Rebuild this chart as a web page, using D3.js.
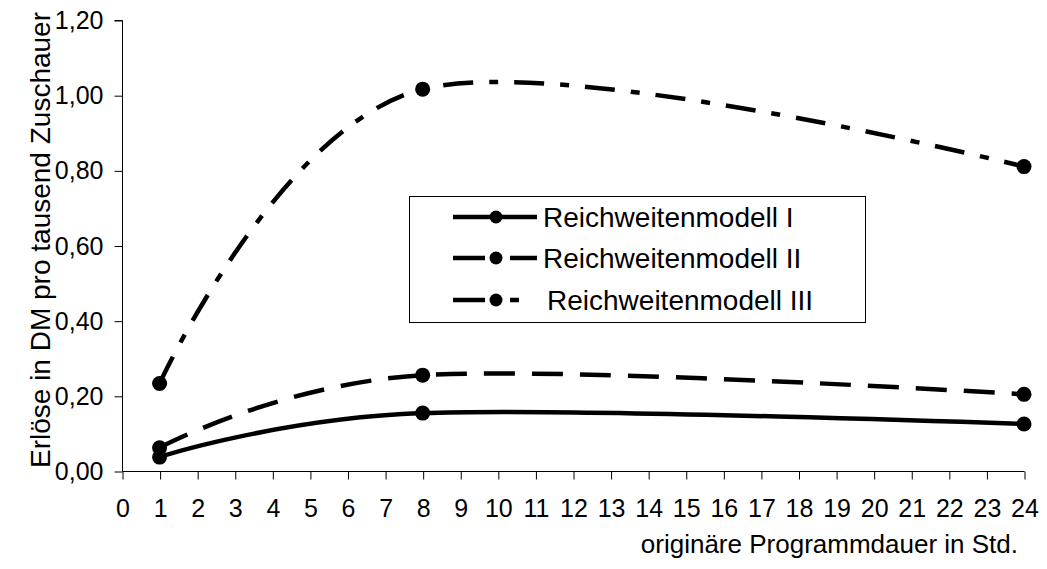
<!DOCTYPE html>
<html>
<head>
<meta charset="utf-8">
<script src="https://cdn.jsdelivr.net/npm/d3@7/dist/d3.min.js"></script>
<style>
  html, body { margin: 0; padding: 0; background: #fff; }
  svg { display: block; font-family: "Liberation Sans", Arial, sans-serif; }
</style>
</head>
<body>
<svg id="chart" width="1047" height="569"></svg>
<script>
// Program duration (hours) at which the revenue models were evaluated
const hours = [1, 8, 24];
// Revenue in DM per thousand viewers
const modelI = [0.037, 0.154, 0.125];
const modelII = [0.062, 0.255, 0.204];
const modelIII = [0.233, 1.016, 0.81];

const seriesNames = ["Reichweitenmodell I", "Reichweitenmodell II", "Reichweitenmodell III"];
const xTicks = d3.range(0, 25);
const yTicks = [0, 0.2, 0.4, 0.6, 0.8, 1.0, 1.2];
const xTitle = "originäre Programmdauer in Std.";
const yTitle = "Erlöse in DM pro tausend Zuschauer";

const svg = d3.select("#chart");
const x = d3.scaleLinear().domain([0, 24]).range([122, 1024]);
const y = d3.scaleLinear().domain([0, 1.2]).range([471, 20]);
const fmt = v => d3.format(".2f")(v).replace(".", ",");

// Axes
const gx = svg.append("g")
  .attr("transform", `translate(0.5,${y(0) + 0.5})`)
  .call(d3.axisBottom(x).tickValues(xTicks).tickSize(8).tickPadding(20).tickFormat(d3.format("d")));
const gy = svg.append("g")
  .attr("transform", `translate(${x(0) + 0.5},0.5)`)
  .call(d3.axisLeft(y).tickValues(yTicks).tickSize(8).tickPadding(11).tickFormat(fmt));
[gx, gy].forEach(g => {
  g.select(".domain").attr("stroke", "#000").attr("stroke-width", 1);
  g.selectAll(".tick line").attr("stroke", "#000");
  g.selectAll(".tick text").attr("fill", "#000").style("font-size", "25px")
    .style("font-family", "'Liberation Sans', Arial, sans-serif");
});
gy.select(".domain").attr("d", `M-8,${y(1.2)}H0V${y(0)}`);
gx.select(".domain").attr("d", `M0,0H${x(24) - x(0)}`).attr("transform", `translate(${x(0)},0)`);

// Axis titles
svg.append("text")
  .attr("x", 1018).attr("y", 553)
  .attr("text-anchor", "end")
  .style("font-size", "26px")
  .text(xTitle);
svg.append("text")
  .attr("transform", "translate(50,240) rotate(-90)")
  .attr("text-anchor", "middle")
  .style("font-size", "28px")
  .text(yTitle);

// Series lines
const series = [
  { values: modelI, dash: null, key: null, textX: 543 },
  { values: modelII, dash: "31,17", key: "32,25,27", textX: 543 },
  { values: modelIII, dash: "30,16,9,16", key: "32,25,9,100", textX: 547 }
];
const line = d3.line()
  .x(d => x(d[0]))
  .y(d => y(d[1]))
  .curve(d3.curveCardinal.tension(0));

series.forEach(s => {
  const pts = hours.map((h, i) => [h, s.values[i]]);
  svg.append("path")
    .datum(pts)
    .attr("fill", "none")
    .attr("stroke", "#000")
    .attr("stroke-width", 4.5)
    .attr("stroke-dasharray", s.dash)
    .attr("d", line);
  svg.append("g").selectAll("circle")
    .data(pts)
    .join("circle")
    .attr("cx", d => x(d[0]))
    .attr("cy", d => y(d[1]))
    .attr("r", 7.5)
    .attr("fill", "#000");
});

// Legend
const legend = svg.append("g");
legend.append("rect")
  .attr("x", 409.5).attr("y", 196.5)
  .attr("width", 456).attr("height", 126)
  .attr("fill", "#fff").attr("stroke", "#000").attr("stroke-width", 1);
const rowsY = [217, 258, 300];
series.forEach((s, i) => {
  const ry = rowsY[i];
  legend.append("line")
    .attr("x1", 453).attr("x2", 537)
    .attr("y1", ry).attr("y2", ry)
    .attr("stroke", "#000").attr("stroke-width", 4.5)
    .attr("stroke-dasharray", s.key);
  legend.append("circle")
    .attr("cx", 496).attr("cy", ry).attr("r", 6.5).attr("fill", "#000");
  legend.append("text")
    .attr("x", s.textX).attr("y", ry + 10)
    .style("font-size", "28px")
    .text(seriesNames[i]);
});
</script>
</body>
</html>
